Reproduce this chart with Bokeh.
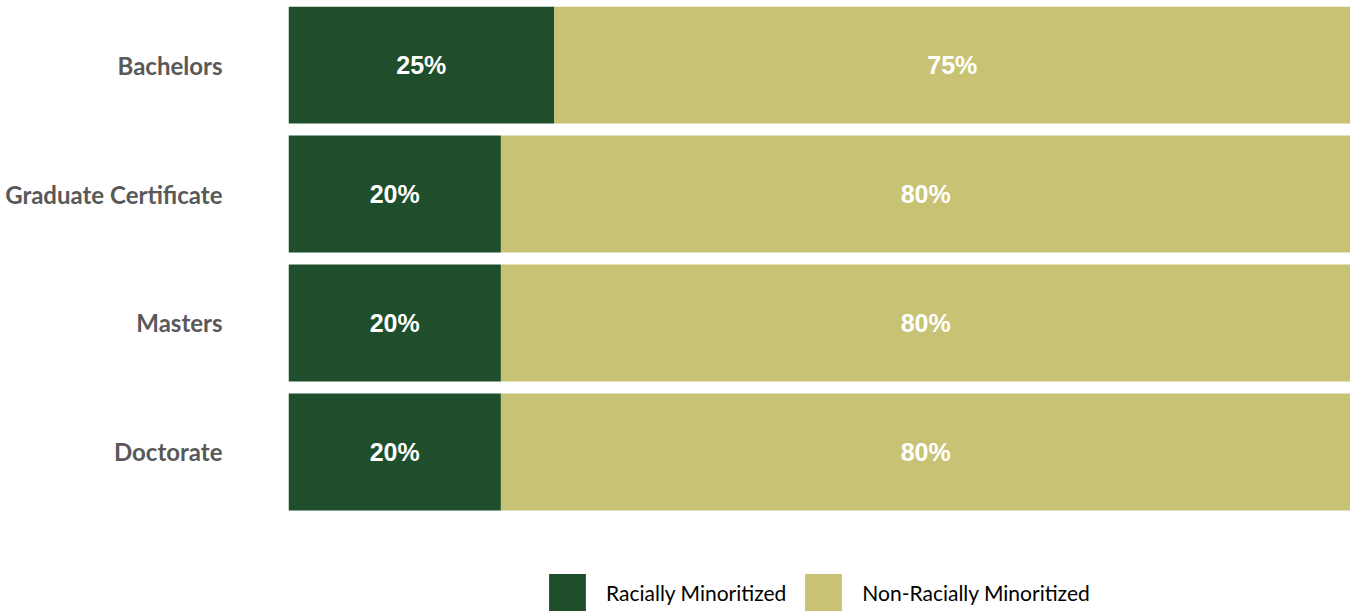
from bokeh.plotting import figure
from bokeh.models import ColumnDataSource, Range1d, Legend, LegendItem, FixedTicker
from bokeh.core.properties import value
from bokeh.embed import file_html
from bokeh.resources import INLINE

categories = ["Bachelors", "Graduate Certificate", "Masters", "Doctorate"]
racially_minoritized = [25, 20, 20, 20]
non_racially_minoritized = [75, 80, 80, 80]
series_names = ["Racially Minoritized", "Non-Racially Minoritized"]
colors = ["#1F4E2C", "#C8C374"]

n = len(categories)
ypos = [n - 1 - i for i in range(n)]
source = ColumnDataSource(dict(
    y=ypos,
    rm=racially_minoritized,
    nrm=non_racially_minoritized,
    rm_x=[v / 2 for v in racially_minoritized],
    nrm_x=[a + b / 2 for a, b in zip(racially_minoritized, non_racially_minoritized)],
    rm_t=[f"{v}%" for v in racially_minoritized],
    nrm_t=[f"{v}%" for v in non_racially_minoritized],
))

W, H = 1350, 612
top_border = 6
left_border = 288
bh = 0.907
bars_px = 504                      # pixel span from top of first bar to bottom of last bar
frame_h = H - top_border
ppu = bars_px / (n - 1 + bh)
y_top = n - 1 + bh / 2
y_bottom = y_top - frame_h / ppu

p = figure(width=W, height=H, output_backend="svg", toolbar_location=None,
           x_range=Range1d(0, 100), y_range=Range1d(y_bottom, y_top),
           min_border_left=left_border, min_border_right=0, min_border_top=top_border,
           min_border_bottom=0)

rs = p.hbar_stack(["rm", "nrm"], y="y", height=bh, color=colors, source=source, line_width=0)

for xcol, tcol in [("rm_x", "rm_t"), ("nrm_x", "nrm_t")]:
    p.text(x=xcol, y="y", text=tcol, source=source, text_color="white",
           text_font=value("Liberation Sans"), text_font_style="bold", text_font_size="25px",
           text_align="center", text_baseline="middle")

p.xaxis.visible = False
p.xgrid.visible = False
p.ygrid.visible = False
p.outline_line_color = None

p.yaxis.ticker = FixedTicker(ticks=ypos)
p.yaxis.major_label_overrides = {y: c for y, c in zip(ypos, categories)}
p.yaxis.axis_line_color = None
p.yaxis.major_tick_line_color = None
p.yaxis.minor_tick_line_color = None
p.yaxis.major_tick_out = 0
p.yaxis.major_tick_in = 0
p.yaxis.major_label_standoff = 66
p.yaxis.major_label_text_font = "Lato"
p.yaxis.major_label_text_font_style = "bold"
p.yaxis.major_label_text_font_size = "24px"
p.yaxis.major_label_text_color = "#595959"

legend = Legend(items=[LegendItem(label=series_names[i], renderers=[rs[i]]) for i in range(2)],
                orientation="horizontal", location=(256, -3),
                glyph_width=46, glyph_height=46, label_standoff=16, spacing=14,
                padding=0, margin=0, border_line_color=None, background_fill_alpha=0,
                label_text_font="Lato", label_text_font_size="21px", label_text_color="#000000",
                label_height=46)
p.add_layout(legend)

open("out.html", "w").write(file_html(p, INLINE))
